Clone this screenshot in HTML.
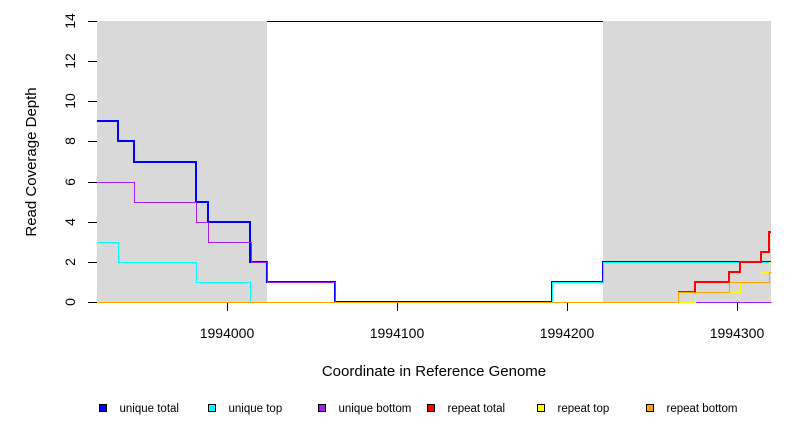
<!DOCTYPE html>
<html><head><meta charset="utf-8"><style>
body{margin:0;background:#fff;width:792px;height:432px;overflow:hidden}
svg{display:block;font-family:"Liberation Sans",sans-serif}
</style></head><body>
<svg id="chart" width="792" height="432" viewBox="0 0 792 432">
</svg>
<script>
const xTicks=[1994000,1994100,1994200,1994300];
const yTicks=[0,2,4,6,8,10,12,14];
const shadedRegions=[[1993923.5,1994023.5],[1994221,1994320]];
const uniqueTotalX=[1993923.5,1993936,1993945,1993982,1993989,1994013.5,1994023.5,1994063.5,1994191,1994221,1994320];
const uniqueTotalY=[9,8,7,5,4,2,1,0,1,2];
const uniqueTopX=[1993923.5,1993936,1993982,1994013.5,1994191,1994221,1994320];
const uniqueTopY=[3,2,1,0,1,2];
const uniqueBottomX=[1993923.5,1993945,1993982,1993989,1994014,1994023.5,1994063.5,1994320];
const uniqueBottomY=[6,5,4,3,2,1,0];
const repeatTotalX=[1994265.3,1994275.3,1994295.3,1994301.8,1994314,1994318.8,1994320];
const repeatTotalY=[0.5,1,1.5,2,2.5,3.5];
const repeatTopX=[1994265.3,1994275.3,1994301.8,1994314,1994318.8,1994320];
const repeatTopY=[0,0.5,1,1.5,2];
const repeatBottomX=[1993923.5,1994265.3,1994295.3,1994318.8,1994320];
const repeatBottomY=[0,0.5,1,1.5];
const legendLabels=["unique total","unique top","unique bottom","repeat total","repeat top","repeat bottom"];
const legendColors=["#0000ff","#00ffff","#a020f0","#ff0000","#ffff00","#ffa500"];

const NS="http://www.w3.org/2000/svg";
const svg=document.getElementById('chart');
const X0=1993923.5,X1=1994320,PX0=97,PX1=771;
const xs=v=>Math.round(PX0+(v-X0)/(X1-X0)*(PX1-PX0));
const ys=v=>Math.round(302-v*(281/14));
function mk(tag,attrs,parent){const e=document.createElementNS(NS,tag);for(const k in attrs)e.setAttribute(k,attrs[k]);(parent||svg).appendChild(e);return e;}

shadedRegions.forEach(r=>{
  const e=mk('rect',{x:xs(r[0]),y:ys(14),width:xs(r[1])-xs(r[0]),height:ys(0)-ys(14),fill:'#d9d9d9'});
  
  
});
const tl=mk('line',{x1:xs(shadedRegions[0][1]),x2:xs(shadedRegions[1][0]),y1:ys(14)+0.5,y2:ys(14)+0.5,stroke:'#000','stroke-width':1,'shape-rendering':'crispEdges'});



function step(xa,ya,color,w,name){
  const o=w%2?0.5:0;
  let d='M'+(xs(xa[0])+o)+','+(ys(ya[0])+o);
  for(let i=0;i<ya.length;i++){d+=' H'+(xs(xa[i+1])+o);if(i+1<ya.length)d+=' V'+(ys(ya[i+1])+o);}
  const p=mk('path',{d:d,fill:'none',stroke:color,'stroke-width':w,'shape-rendering':'crispEdges'});
  
  
}
step(uniqueTotalX,uniqueTotalY,'#0000ff',2,'unique-total-line');
step(uniqueTopX,uniqueTopY,'#00ffff',1,'unique-top-line');
step(uniqueBottomX,uniqueBottomY,'#a020f0',1,'unique-bottom-line');
step(repeatTotalX,repeatTotalY,'#ff0000',2,'repeat-total-line');
step(repeatTopX,repeatTopY,'#ffff00',1,'repeat-top-line');
step(repeatBottomX,repeatBottomY,'#ffa500',1,'repeat-bottom-line');

xTicks.forEach(t=>{
  const l=mk('line',{x1:xs(t)+0.5,x2:xs(t)+0.5,y1:303,y2:311,stroke:'#000','shape-rendering':'crispEdges'});
  
  
  const tx=mk('text',{x:xs(t),y:338,'text-anchor':'middle','font-size':14});
  tx.textContent=t;
  
  
});
yTicks.forEach(t=>{
  const l=mk('line',{x1:88,x2:97,y1:ys(t)+0.5,y2:ys(t)+0.5,stroke:'#000','shape-rendering':'crispEdges'});
  
  
  const tx=mk('text',{x:75,y:ys(t),'text-anchor':'middle','font-size':14,transform:'rotate(-90 75 '+ys(t)+')'});
  tx.textContent=t;
  
  
});
const xt=mk('text',{x:434,y:376,'text-anchor':'middle','font-size':15});
xt.textContent='Coordinate in Reference Genome';


const yt=mk('text',{x:36,y:162,'text-anchor':'middle','font-size':15,transform:'rotate(-90 36 162)'});
yt.textContent='Read Coverage Depth';



legendLabels.forEach((lab,i)=>{
  const x=99.5+Math.round(i*109.4);
  const g=mk('g',{});
  
  
  mk('rect',{x:x,y:404.5,width:7,height:7,fill:legendColors[i],stroke:'#000','stroke-width':1},g);
  const tx=mk('text',{x:x+20,y:412,'font-size':11.5},g);
  tx.textContent=lab;
});
</script>
</body></html>
